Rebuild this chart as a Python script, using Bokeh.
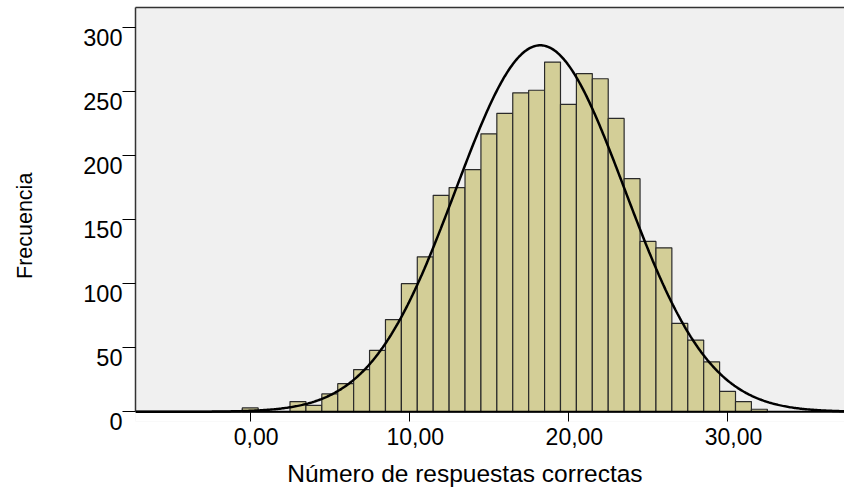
import numpy as np
from bokeh.plotting import figure
from bokeh.models import (FixedTicker, Range1d, CustomJSTickFormatter, LinearAxis,
                          Title, Span, BoxAnnotation)
from bokeh.embed import file_html
from bokeh.resources import INLINE

# ---- data ----
bins = list(range(0, 33))
counts = [3, 0, 0, 8, 5, 14, 22, 33, 48, 72,
          100, 121, 169, 175, 189, 217, 233, 249, 251, 273,
          240, 264, 260, 229, 182, 133, 128, 69, 56, 39,
          16, 8, 2]
x_ticks = [0, 10, 20, 30]
x_tick_labels = ["0,00", "10,00", "20,00", "30,00"]
y_ticks = [0, 50, 100, 150, 200, 250, 300]
y_tick_labels = ["0", "50", "100", "150", "200", "250", "300"]
curve_mean = 18.23
curve_sd = 5.31
x_title = "Número de respuestas correctas"
y_title = "Frecuencia"

FONT = "Liberation Sans"
X0, X1 = -7.21, 37.35
Y0, Y1 = -7.56, 315.6   # the strip below 0 is painted white
X_LAB_SHIFT = 0.373     # tick labels sit ~6px right of their ticks
Y_LAB_SHIFT = 7.56      # tick labels sit ~9.5px below their ticks

p = figure(width=844, height=497, output_backend="svg", toolbar_location=None,
           x_range=Range1d(X0, X1), y_range=Range1d(Y0, Y1),
           min_border_left=135, min_border_right=0, min_border_top=7,
           min_border_bottom=75)
p.extra_x_ranges = {"xlab": Range1d(X0 - X_LAB_SHIFT, X1 - X_LAB_SHIFT)}
p.extra_y_ranges = {"ylab": Range1d(Y0 + Y_LAB_SHIFT, Y1 + Y_LAB_SHIFT)}
p.background_fill_color = "#f0f0f0"
p.border_fill_color = "white"
p.outline_line_color = None
p.grid.visible = False

# white strip under the zero line
p.add_layout(BoxAnnotation(top=0, fill_color="white", fill_alpha=1.0,
                           line_color=None, level="underlay"))

# bars
p.vbar(x=bins, top=counts, width=1.0, bottom=0,
       fill_color="#d3ce97", line_color="#2a2a2a", line_width=1.2)

# fitted normal curve
n_total = sum(counts)
xs = np.linspace(X0, X1, 600)
ys = n_total * 1.0 * np.exp(-0.5 * ((xs - curve_mean) / curve_sd) ** 2) / (curve_sd * np.sqrt(2 * np.pi))
p.line(xs, ys, line_color="black", line_width=2.5)

# zero line
p.add_layout(Span(location=0, dimension="width", line_color="black", line_width=2))

empty = CustomJSTickFormatter(code="return ''")

# x ticks (drawn inward from the frame's bottom, up to the zero line)
xa = p.xaxis[0]
xa.ticker = FixedTicker(ticks=x_ticks)
xa.formatter = empty
xa.major_tick_in = 10
xa.major_tick_out = 0
xa.major_label_standoff = 0
xa.minor_tick_line_color = None
xa.axis_line_color = None
xa.major_tick_line_color = "black"

# y ticks + left border
ya = p.yaxis[0]
ya.ticker = FixedTicker(ticks=y_ticks)
ya.formatter = empty
ya.bounds = (0, Y1)
ya.major_tick_in = 0
ya.major_tick_out = 13
ya.major_label_standoff = 0
ya.minor_tick_line_color = None
ya.axis_line_color = "#333333"
ya.axis_line_width = 1.5
ya.major_tick_line_color = "black"

# top border
top_ax = LinearAxis(ticker=FixedTicker(ticks=[]), formatter=empty,
                    major_tick_in=0, major_tick_out=0, minor_tick_in=0, minor_tick_out=0,
                    major_label_standoff=0, axis_line_color="#333333", axis_line_width=1.5)
p.add_layout(top_ax, "above")

# label-only axes
xl = LinearAxis(x_range_name="xlab", ticker=FixedTicker(ticks=x_ticks),
                major_label_overrides=dict(zip(x_ticks, x_tick_labels)),
                major_tick_in=0, major_tick_out=0, minor_tick_line_color=None,
                axis_line_color=None, major_tick_line_color=None,
                major_label_standoff=6,
                major_label_text_font=FONT, major_label_text_font_size="23px",
                major_label_text_color="black")
p.add_layout(xl, "below")

yl = LinearAxis(y_range_name="ylab", ticker=FixedTicker(ticks=y_ticks),
                major_label_overrides=dict(zip(y_ticks, y_tick_labels)),
                major_tick_in=0, major_tick_out=0, minor_tick_line_color=None,
                axis_line_color=None, major_tick_line_color=None,
                major_label_standoff=0,
                major_label_text_font=FONT, major_label_text_font_size="23.5px",
                major_label_text_color="black")
p.add_layout(yl, "left")

# invisible spacer so the y title sits near the left edge
spacer = LinearAxis(ticker=FixedTicker(ticks=[100]), formatter=empty,
                    major_tick_in=0, major_tick_out=31, minor_tick_in=0, minor_tick_out=0,
                    major_tick_line_color=None, minor_tick_line_color=None,
                    major_label_standoff=0, axis_line_color=None)
p.add_layout(spacer, "left")

p.add_layout(Title(text=x_title, align="left", offset=151.7, standoff=21,
                   vertical_align="bottom",
                   text_font=FONT, text_font_size="24.5px", text_font_style="normal",
                   text_color="black"), "below")
p.add_layout(Title(text=y_title, align="left", offset=142.5, standoff=22,
                   vertical_align="top",
                   text_font=FONT, text_font_size="21.5px", text_font_style="normal",
                   text_color="black"), "left")

open("out.html", "w").write(file_html(p, INLINE))
